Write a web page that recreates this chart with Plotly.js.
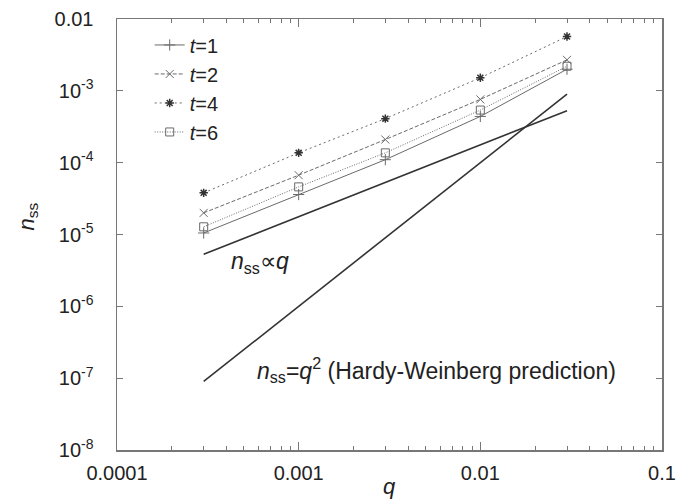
<!DOCTYPE html>
<html>
<head>
<meta charset="utf-8">
<script src="https://cdn.plot.ly/plotly-3.0.1.min.js"></script>
<style>html,body{margin:0;padding:0;background:#fff}#chart{width:689px;height:504px}</style>
</head>
<body>
<div id="chart"></div>
<script>
// Data
var q = [0.0003, 0.001, 0.003, 0.01, 0.03];
var nT1 = [1.05e-5, 3.6e-5, 1.1e-4, 4.4e-4, 2.0e-3];
var nT2 = [2.0e-5, 6.7e-5, 2.1e-4, 7.6e-4, 2.7e-3];
var nT4 = [3.8e-5, 1.37e-4, 4.1e-4, 1.52e-3, 5.7e-3];
var nT6 = [1.28e-5, 4.6e-5, 1.37e-4, 5.4e-4, 2.2e-3];
var seriesNames = ['<i>t</i>=1', '<i>t</i>=2', '<i>t</i>=4', '<i>t</i>=6'];
var qRef = [0.0003, 0.03];
var nProp = [5.3e-6, 5.3e-4];
var nHW = [9e-8, 9e-4];
var xTickVals = [0.0001, 0.001, 0.01, 0.1];
var xTickText = ['0.0001', '0.001', '0.01', '0.1'];
var yTickVals = [1e-8, 1e-7, 1e-6, 1e-5, 1e-4, 1e-3, 1e-2];
var yTickText = ['10<sup>-8</sup>', '10<sup>-7</sup>', '10<sup>-6</sup>', '10<sup>-5</sup>', '10<sup>-4</sup>', '10<sup>-3</sup>', '0.01'];

var FONT = 'Liberation Sans, Arial, Helvetica, sans-serif';
var gray = '#6a6a6a';

var traces = [
  {x: q, y: nT1, name: seriesNames[0], mode: 'lines+markers',
   line: {color: gray, width: 1, dash: 'solid'},
   marker: {symbol: 'cross-thin-open', size: 8, color: gray, line: {color: gray, width: 1}}},
  {x: q, y: nT2, name: seriesNames[1], mode: 'lines+markers',
   line: {color: gray, width: 1, dash: '4px,2px'},
   marker: {symbol: 'x-thin-open', size: 8, color: gray, line: {color: gray, width: 1}}},
  {x: q, y: nT4, name: seriesNames[2], mode: 'lines+markers',
   line: {color: gray, width: 1, dash: '2px,3px'},
   marker: {symbol: 'asterisk-open', size: 7, color: '#333', line: {color: '#333', width: 1.5}}},
  {x: q, y: nT6, name: seriesNames[3], mode: 'lines+markers',
   line: {color: gray, width: 1, dash: '1px,1.5px'},
   marker: {symbol: 'square-open', size: 8, color: gray, line: {color: gray, width: 1}}},
  {x: qRef, y: nProp, mode: 'lines', showlegend: false, hoverinfo: 'skip',
   line: {color: '#333', width: 1.6}},
  {x: qRef, y: nHW, mode: 'lines', showlegend: false, hoverinfo: 'skip',
   line: {color: '#333', width: 1.6}}
];

var layout = {
  width: 689, height: 504,
  margin: {l: 117, r: 27, t: 19, b: 54},
  paper_bgcolor: '#fff', plot_bgcolor: '#fff',
  font: {family: FONT, size: 20, color: '#222'},
  showlegend: true,
  legend: {x: 0.06, y: 0.985, xanchor: 'left', yanchor: 'top',
           bgcolor: 'rgba(0,0,0,0)', borderwidth: 0,
           font: {family: FONT, size: 20, color: '#222'}, tracegroupgap: 0},
  xaxis: {type: 'log', range: [-4, -1], tickvals: xTickVals, ticktext: xTickText,
          ticks: 'inside', ticklen: 8, tickwidth: 1, tickcolor: '#777',
          showline: true, linecolor: '#777', linewidth: 1.5, mirror: 'ticks',
          showgrid: false, zeroline: false, ticklabelstandoff: 4,
          minor: {ticks: 'inside', ticklen: 4, tickcolor: '#777', dtick: 'D1', showgrid: false},
          tickfont: {family: FONT, size: 20, color: '#222'}},
  yaxis: {type: 'log', range: [-8, -2], tickvals: yTickVals, ticktext: yTickText,
          ticks: 'inside', ticklen: 6, tickwidth: 1, tickcolor: '#777',
          showline: true, linecolor: '#777', linewidth: 1.5, mirror: 'ticks',
          showgrid: false, zeroline: false, ticklabelstandoff: 18,
          tickfont: {family: FONT, size: 20, color: '#222'}},
  annotations: [
    {xref: 'paper', yref: 'paper', x: 0.5, y: -0.085, text: '<i>q</i>', showarrow: false,
     font: {family: FONT, size: 22, color: '#222'}, xanchor: 'center', yanchor: 'middle'},
    {xref: 'paper', yref: 'paper', x: -0.164, y: 0.541, text: '<i>n</i><sub>ss</sub>', showarrow: false,
     textangle: -90, font: {family: FONT, size: 22, color: '#222'}, xanchor: 'center', yanchor: 'middle'},
    {xref: 'paper', yref: 'paper', x: 0.262, y: 0.434, text: '<i>n</i><sub>ss</sub>\u221D<i>q</i>', showarrow: false,
     font: {family: FONT, size: 23, color: '#222'}, xanchor: 'center', yanchor: 'middle'},
    {xref: 'paper', yref: 'paper', x: 0.587, y: 0.186, text: '<i>n</i><sub>ss</sub>=<i>q</i><sup>2</sup> (Hardy-Weinberg prediction)', showarrow: false,
     font: {family: FONT, size: 23, color: '#222'}, xanchor: 'center', yanchor: 'middle'}
  ]
};

Plotly.newPlot('chart', traces, layout, {staticPlot: true, displayModeBar: false});
</script>
</body>
</html>
